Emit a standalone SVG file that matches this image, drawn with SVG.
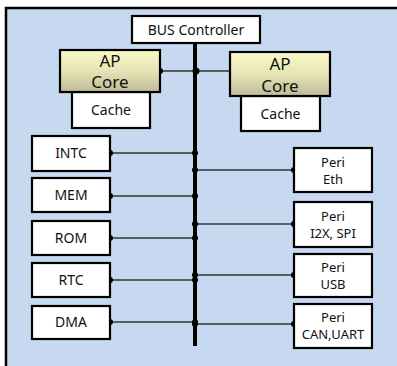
<svg xmlns="http://www.w3.org/2000/svg" width="397" height="366" viewBox="0 0 397 366">
<style>
.box{fill:#fff;stroke:#000;stroke-width:2.2}
.core{fill:url(#g);stroke:#000;stroke-width:2.2}
text{font-family:"Noto Sans","Open Sans",sans-serif;font-size:14px;fill:#111;text-anchor:middle}
.big{font-size:17px}
.sm{font-size:13px}
.ln{stroke:#333;stroke-width:1.3;fill:none}
.dot{fill:#000}
</style>
<defs>
<linearGradient id="g" x1="0" y1="0" x2="0" y2="1">
<stop offset="0" stop-color="#FAFAC8"/>
<stop offset="0.5" stop-color="#E6E4B6"/>
<stop offset="1" stop-color="#BEBB98"/>
</linearGradient>
</defs>
<rect x="0" y="0" width="397" height="366" fill="#fff"/>
<rect x="6" y="8" width="391" height="358" fill="#C6D9F0"/>
<path d="M6 366 V8 H397" fill="none" stroke="#000" stroke-width="2.5"/>
<g id="connectors">
<line x1="195" y1="43" x2="195" y2="346" stroke="#000" stroke-width="4"/>
<line class="ln" x1="160" y1="71" x2="232" y2="71"/>
<line class="ln" x1="110" y1="153" x2="195" y2="153"/>
<line class="ln" x1="110" y1="196" x2="195" y2="196"/>
<line class="ln" x1="110" y1="238" x2="195" y2="238"/>
<line class="ln" x1="110" y1="280" x2="195" y2="280"/>
<line class="ln" x1="110" y1="322" x2="195" y2="322"/>
<line class="ln" x1="195" y1="170" x2="294" y2="170"/>
<line class="ln" x1="195" y1="224" x2="294" y2="224"/>
<line class="ln" x1="195" y1="275" x2="294" y2="275"/>
<line class="ln" x1="195" y1="324" x2="294" y2="324"/>
<g class="dot">
<circle cx="160" cy="71" r="3"/><circle cx="196" cy="71" r="3.5"/><circle cx="232" cy="71" r="3"/>
<circle cx="110" cy="153" r="3"/><circle cx="195" cy="153" r="3"/>
<circle cx="110" cy="196" r="3"/><circle cx="195" cy="196" r="3"/>
<circle cx="110" cy="238" r="3"/><circle cx="195" cy="238" r="3"/>
<circle cx="110" cy="280" r="3"/><circle cx="195" cy="280" r="3"/>
<circle cx="110" cy="322" r="3"/><circle cx="195" cy="322" r="3"/>
<circle cx="195" cy="170" r="3"/><circle cx="294" cy="170" r="3"/>
<circle cx="195" cy="224" r="3"/><circle cx="294" cy="224" r="3"/>
<circle cx="195" cy="275" r="3"/><circle cx="294" cy="275" r="3"/>
<circle cx="195" cy="324" r="3"/><circle cx="294" cy="324" r="3"/>
</g>
</g>
<g id="bus-controller"><rect class="box" x="132" y="16" width="128" height="27"/><text x="196" y="35">BUS Controller</text></g>
<g id="cache-left"><rect class="box" x="72" y="92" width="78" height="36"/><text x="111" y="115">Cache</text></g>
<g id="ap-core-left"><rect class="core" x="60" y="50" width="100" height="42"/><text class="big" x="110" y="67">AP</text><text class="big" x="110" y="88">Core</text></g>
<g id="cache-right"><rect class="box" x="241" y="96" width="79" height="35"/><text x="280.500" y="119">Cache</text></g>
<g id="ap-core-right"><rect class="core" x="230" y="52" width="100" height="44"/><text class="big" x="280" y="70">AP</text><text class="big" x="280" y="92">Core</text></g>
<g id="intc"><rect class="box" x="32" y="136" width="78" height="35"/><text x="71" y="158">INTC</text></g>
<g id="mem"><rect class="box" x="32" y="178" width="78" height="34"/><text x="71" y="200">MEM</text></g>
<g id="rom"><rect class="box" x="32" y="221" width="78" height="34"/><text x="71" y="243">ROM</text></g>
<g id="rtc"><rect class="box" x="32" y="263" width="78" height="34"/><text x="71" y="285">RTC</text></g>
<g id="dma"><rect class="box" x="32" y="306" width="78" height="33"/><text x="71" y="327">DMA</text></g>
<g id="peri-eth"><rect class="box" x="294" y="148" width="78" height="44"/><text class="sm" x="333" y="166.500">Peri</text><text class="sm" x="333" y="184">Eth</text></g>
<g id="peri-i2x"><rect class="box" x="294" y="202" width="78" height="45"/><text class="sm" x="333" y="220.500">Peri</text><text class="sm" x="333" y="238">I2X, SPI</text></g>
<g id="peri-usb"><rect class="box" x="294" y="254" width="78" height="43"/><text class="sm" x="333" y="271.500">Peri</text><text class="sm" x="333" y="289">USB</text></g>
<g id="peri-can"><rect class="box" x="294" y="304" width="78" height="44"/><text class="sm" x="333" y="321.500">Peri</text><text class="sm" x="333" y="339">CAN,UART</text></g>
</svg>
